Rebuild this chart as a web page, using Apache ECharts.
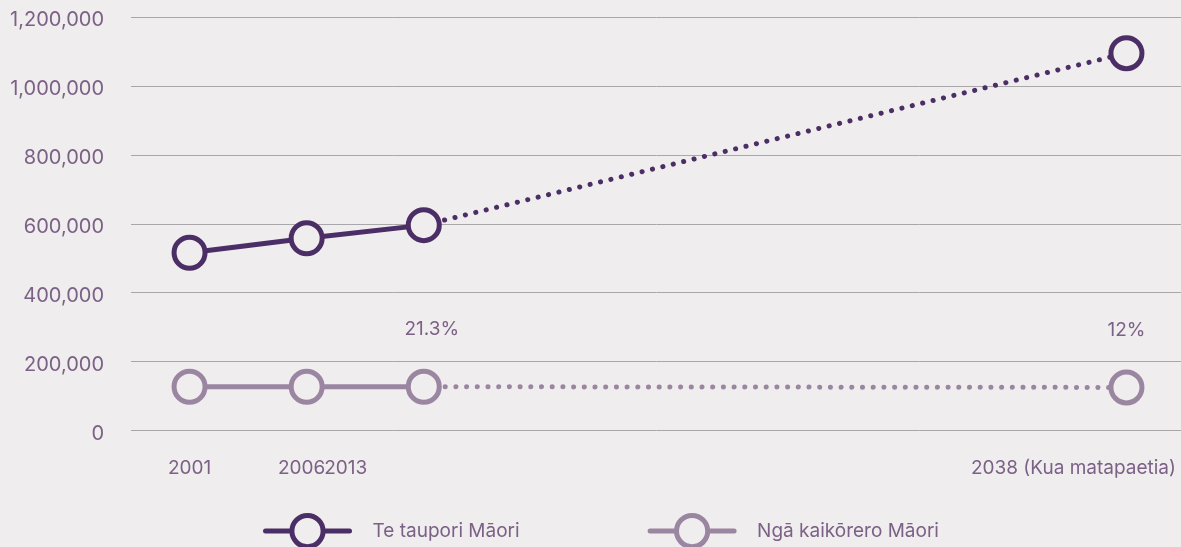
<!DOCTYPE html>
<html>
<head>
<meta charset="utf-8">
<script src="https://cdn.jsdelivr.net/npm/echarts@6/dist/echarts.min.js"></script>
<style>
  html, body { margin: 0; padding: 0; background: #efeded; }
  #chart { width: 1181px; height: 547px; }
</style>
</head>
<body>
<div id="chart"></div>
<script>
// categories along the x axis (empty slots keep the 2038 projection far to the right)
const years = ['2001', '2006', '2013', '', '', '', '', '', '2038 (Kua matapaetia)']

// Te taupori Māori (population)
const populationActual = [516000, 558000, 596000, '-', '-', '-', '-', '-', '-']
const populationProjected = ['-', '-', 596000, '-', '-', '-', '-', '-', 1095000]

// Ngā kaikōrero Māori (speakers)
const speakersActual = [127000, 127000, 127000, '-', '-', '-', '-', '-', '-']
const speakersProjected = ['-', '-', 127000, '-', '-', '-', '-', '-', 125000]

const speakerShare = { 2: '21.3%', 8: '12%' }

const yTicks = [0, 200000, 400000, 600000, 800000, 1000000, 1200000]

const seriesNames = ['Te taupori Māori', 'Ngā kaikōrero Māori']

const bg = '#efeded'
const dark = '#4b2e65'
const light = '#9b86a2'
const textColor = '#7b6186'
const font = 'Inter'
const fontSize = 19

// horizontal nudges for the x labels (the source draws them off their ticks)
const labelShift = { 1: -5, 2: -78, 8: -53 }

const chart = echarts.init(document.getElementById('chart'))

const symbolStyle = (color) => ({
  color: bg,
  borderColor: color,
  borderWidth: 5,
})

const shareLabel = (value, idx) => ({
  value: value,
  label: {
    show: true,
    position: 'top',
    distance: 30,
    offset: idx === 2 ? [8, 0] : [0, 0],
    formatter: speakerShare[idx],
    color: textColor,
    fontFamily: font,
    fontSize: fontSize,
  },
})

const withLabels = (arr) =>
  arr.map((v, i) => (speakerShare[i] && v !== '-' ? shareLabel(v, i) : v))

const hideFirst = (arr) =>
  arr.map((v, i) => (i === 2 ? { value: v, symbol: 'none' } : v))

const richShift = {}
Object.keys(labelShift).forEach((k) => {
  richShift['s' + k] = {
    padding: [0, -2 * labelShift[k], 0, 0],
    color: textColor,
    fontFamily: font,
    fontSize: fontSize,
  }
})

const option = {
  backgroundColor: bg,
  animation: false,
  textStyle: { fontFamily: font },
  grid: { left: 131, right: -4, top: 17, bottom: 116.5, outerBoundsMode: 'none' },
  legend: {
    left: 263,
    top: 513,
    padding: 0,
    itemWidth: 84,
    itemHeight: 39,
    itemGap: 128,
    selectedMode: false,
    textStyle: {
      color: textColor,
      fontFamily: font,
      fontSize: fontSize,
      padding: [2, 0, 0, 18],
    },
    data: [
      {
        name: seriesNames[0],
        itemStyle: symbolStyle(dark),
        lineStyle: { color: dark, width: 5, cap: 'round' },
      },
      {
        name: seriesNames[1],
        itemStyle: symbolStyle(light),
        lineStyle: { color: light, width: 5, cap: 'round' },
      },
    ],
  },
  xAxis: {
    type: 'category',
    data: years,
    boundaryGap: true,
    axisLine: { show: false },
    axisTick: { show: false },
    axisLabel: {
      interval: 0,
      margin: 28,
      color: textColor,
      fontFamily: font,
      fontSize: fontSize,
      formatter: (value, idx) => {
        if (!value) return ''
        return labelShift[idx] ? '{s' + idx + '|' + value + '}' : value
      },
      rich: richShift,
    },
  },
  yAxis: {
    type: 'value',
    min: yTicks[0],
    max: yTicks[yTicks.length - 1],
    interval: yTicks[1] - yTicks[0],
    axisLine: { show: false },
    axisTick: { show: false },
    axisLabel: {
      margin: 27,
      color: textColor,
      fontFamily: font,
      fontSize: 20,
      formatter: (v) => '{v|' + v.toLocaleString('en-US') + '}',
      rich: {
        v: { padding: [6, 0, 0, 0], color: textColor, fontFamily: font, fontSize: 20 },
      },
    },
    splitLine: { lineStyle: { color: '#aaa7aa', width: 1 } },
  },
  series: [
    {
      name: seriesNames[0],
      type: 'line',
      z: 4,
      data: populationActual,
      symbol: 'circle',
      symbolSize: 31,
      itemStyle: symbolStyle(dark),
      lineStyle: { color: dark, width: 5 },
    },
    {
      name: seriesNames[1],
      type: 'line',
      z: 4,
      data: withLabels(speakersActual),
      symbol: 'circle',
      symbolSize: 31,
      itemStyle: symbolStyle(light),
      lineStyle: { color: light, width: 5 },
    },
    {
      name: seriesNames[0],
      type: 'line',
      z: 2,
      connectNulls: true,
      data: hideFirst(populationProjected),
      symbol: 'circle',
      symbolSize: 31,
      itemStyle: symbolStyle(dark),
      lineStyle: { color: dark, width: 5, type: [0.1, 10.6], cap: 'round' },
    },
    {
      name: seriesNames[1],
      type: 'line',
      z: 2,
      connectNulls: true,
      data: withLabels(speakersProjected).map((d, i) =>
        i === 2 ? { value: speakersProjected[2], symbol: 'none' } : d
      ),
      symbol: 'circle',
      symbolSize: 31,
      itemStyle: symbolStyle(light),
      lineStyle: { color: light, width: 5, type: [0.1, 10.6], cap: 'round' },
    },
  ],
}

chart.setOption(option)
</script>
</body>
</html>
